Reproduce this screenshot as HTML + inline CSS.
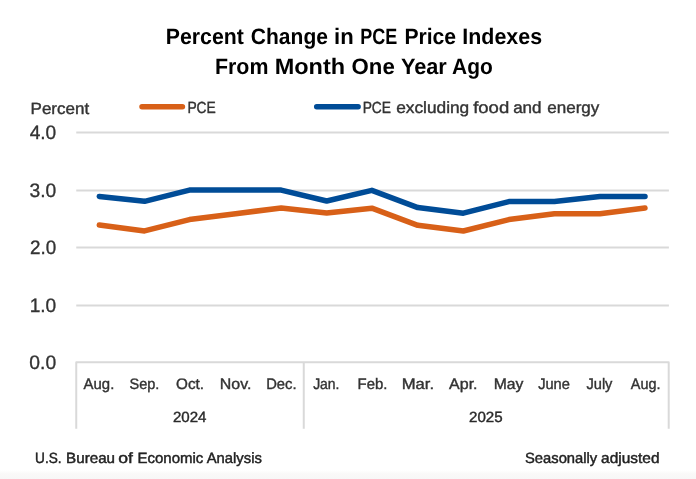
<!DOCTYPE html>
<html lang="en">
<head>
<meta charset="utf-8">
<title>Percent Change in PCE Price Indexes From Month One Year Ago</title>
<style>
html,body{margin:0;padding:0;background:#fff;}
body{width:696px;height:479px;overflow:hidden;font-family:"Liberation Sans",sans-serif;}
svg{display:block;}
text{font-family:"Liberation Sans",sans-serif;text-rendering:geometricPrecision;}
.title{font-weight:bold;fill:#000;font-size:22.3px;}
.ax{fill:#333;font-size:19.5px;stroke:#333;stroke-width:0.35px;}
.lg{fill:#333;font-size:16.2px;stroke:#333;stroke-width:0.4px;}
.mo{fill:#333;font-size:15.2px;stroke:#333;stroke-width:0.4px;}
.yr{fill:#2a2a2a;font-size:14.8px;stroke:#2a2a2a;stroke-width:0.4px;}
.ft{fill:#222;font-size:14.8px;stroke:#222;stroke-width:0.45px;}
.grid{stroke:#d9d9d9;stroke-width:2;fill:none;stroke-linejoin:round;}
.s{fill:none;stroke-width:5.5;stroke-linecap:round;stroke-linejoin:round;}
.o{stroke:#d86018;}
.b{stroke:#004c97;}
</style>
</head>
<body>
<svg width="696" height="479" viewBox="0 0 696 479">
<defs>
<linearGradient id="bot" x1="0" y1="0" x2="0" y2="1">
<stop offset="0" stop-color="#ffffff"/>
<stop offset="0.4" stop-color="#faf9f8"/>
<stop offset="1" stop-color="#f7f7f7"/>
</linearGradient>
</defs>
<rect x="0" y="0" width="696" height="479" fill="#ffffff"/>
<rect x="0" y="470.2" width="696" height="8.8" fill="url(#bot)"/>
<line class="grid" x1="76.25" y1="305.40" x2="668.9" y2="305.40"/>
<line class="grid" x1="76.25" y1="247.40" x2="668.9" y2="247.40"/>
<line class="grid" x1="76.25" y1="190.45" x2="668.9" y2="190.45"/>
<line class="grid" x1="76.25" y1="132.40" x2="668.9" y2="132.40"/>
<path class="grid" d="M76.25,428.75 V362.35 H668.7 V428.75 M303.75,362.35 V428.75"/>
<line class="s o" x1="142" y1="106.65" x2="182.4" y2="106.65"/>
<line class="s b" x1="316.7" y1="106.65" x2="358.1" y2="106.65"/>
<polyline class="s o" points="99.30,225.00 144.56,230.90 189.40,219.60 235.63,213.70 281.17,207.95 326.71,213.10 371.85,208.20 417.79,225.30 463.33,231.00 508.87,219.60 554.40,213.70 599.94,213.70 645.00,208.10"/>
<polyline class="s b" points="99.30,196.40 144.56,201.30 189.40,190.10 235.63,190.10 281.17,190.10 326.71,201.00 371.85,190.35 417.79,207.60 463.33,213.20 508.87,201.55 554.40,201.55 599.94,196.60 645.00,196.60"/>
<text class="title" y="43.70"><tspan x="165.87" textLength="77.95" lengthAdjust="spacingAndGlyphs">Percent</tspan> <tspan x="250.87" textLength="77.05" lengthAdjust="spacingAndGlyphs">Change</tspan> <tspan x="334.04" textLength="19.64" lengthAdjust="spacingAndGlyphs">in</tspan> <tspan x="360.17" textLength="37.01" lengthAdjust="spacingAndGlyphs">PCE</tspan> <tspan x="404.38" textLength="51.73" lengthAdjust="spacingAndGlyphs">Price</tspan> <tspan x="462.35" textLength="79.74" lengthAdjust="spacingAndGlyphs">Indexes</tspan></text>
<text class="title" y="73.90"><tspan x="214.94" textLength="53.48" lengthAdjust="spacingAndGlyphs">From</tspan> <tspan x="274.68" textLength="70.44" lengthAdjust="spacingAndGlyphs">Month</tspan> <tspan x="351.62" textLength="43.18" lengthAdjust="spacingAndGlyphs">One</tspan> <tspan x="400.91" textLength="45.91" lengthAdjust="spacingAndGlyphs">Year</tspan> <tspan x="452.11" textLength="40.69" lengthAdjust="spacingAndGlyphs">Ago</tspan></text>
<text class="lg" y="113.60"><tspan x="30.59" textLength="58.58" lengthAdjust="spacingAndGlyphs">Percent</tspan></text>
<text class="lg" y="112.70"><tspan x="187.39" textLength="28.47" lengthAdjust="spacingAndGlyphs">PCE</tspan></text>
<text class="lg" y="112.70"><tspan x="362.64" textLength="28.38" lengthAdjust="spacingAndGlyphs">PCE</tspan> <tspan x="396.18" textLength="73.07" lengthAdjust="spacingAndGlyphs">excluding</tspan> <tspan x="473.17" textLength="36.03" lengthAdjust="spacingAndGlyphs">food</tspan> <tspan x="513.17" textLength="28.39" lengthAdjust="spacingAndGlyphs">and</tspan> <tspan x="547.24" textLength="52.1" lengthAdjust="spacingAndGlyphs">energy</tspan></text>
<text class="ax" y="138.70"><tspan x="29.65" textLength="26.61" lengthAdjust="spacingAndGlyphs">4.0</tspan></text>
<text class="ax" y="196.75"><tspan x="29.52" textLength="26.77" lengthAdjust="spacingAndGlyphs">3.0</tspan></text>
<text class="ax" y="253.70"><tspan x="30.01" textLength="26.17" lengthAdjust="spacingAndGlyphs">2.0</tspan></text>
<text class="ax" y="311.70"><tspan x="29.64" textLength="26.63" lengthAdjust="spacingAndGlyphs">1.0</tspan></text>
<text class="ax" y="368.65"><tspan x="29.36" textLength="26.85" lengthAdjust="spacingAndGlyphs">0.0</tspan></text>
<text class="mo" y="388.65"><tspan x="83.6" textLength="30.69" lengthAdjust="spacingAndGlyphs">Aug.</tspan></text>
<text class="mo" y="388.65"><tspan x="129.54" textLength="29.84" lengthAdjust="spacingAndGlyphs">Sep.</tspan></text>
<text class="mo" y="388.65"><tspan x="176.06" textLength="27.93" lengthAdjust="spacingAndGlyphs">Oct.</tspan></text>
<text class="mo" y="388.65"><tspan x="219.81" textLength="31.59" lengthAdjust="spacingAndGlyphs">Nov.</tspan></text>
<text class="mo" y="388.65"><tspan x="266.19" textLength="30.4" lengthAdjust="spacingAndGlyphs">Dec.</tspan></text>
<text class="mo" y="388.65"><tspan x="313.14" textLength="26.35" lengthAdjust="spacingAndGlyphs">Jan.</tspan></text>
<text class="mo" y="388.65"><tspan x="357.55" textLength="29.82" lengthAdjust="spacingAndGlyphs">Feb.</tspan></text>
<text class="mo" y="388.65"><tspan x="401.69" textLength="32.38" lengthAdjust="spacingAndGlyphs">Mar.</tspan></text>
<text class="mo" y="388.65"><tspan x="449.09" textLength="28.45" lengthAdjust="spacingAndGlyphs">Apr.</tspan></text>
<text class="mo" y="388.65"><tspan x="493.66" textLength="29.73" lengthAdjust="spacingAndGlyphs">May</tspan></text>
<text class="mo" y="388.65"><tspan x="538.13" textLength="31.79" lengthAdjust="spacingAndGlyphs">June</tspan></text>
<text class="mo" y="388.65"><tspan x="586.45" textLength="26.0" lengthAdjust="spacingAndGlyphs">July</tspan></text>
<text class="mo" y="388.65"><tspan x="630.85" textLength="29.65" lengthAdjust="spacingAndGlyphs">Aug.</tspan></text>
<text class="yr" y="422.10"><tspan x="172.95" textLength="33.54" lengthAdjust="spacingAndGlyphs">2024</tspan></text>
<text class="yr" y="422.10"><tspan x="468.99" textLength="33.62" lengthAdjust="spacingAndGlyphs">2025</tspan></text>
<text class="ft" y="462.50"><tspan x="35.08" textLength="26.54" lengthAdjust="spacingAndGlyphs">U.S.</tspan> <tspan x="66.13" textLength="48.92" lengthAdjust="spacingAndGlyphs">Bureau</tspan> <tspan x="118.35" textLength="14.66" lengthAdjust="spacingAndGlyphs">of</tspan> <tspan x="137.44" textLength="65.87" lengthAdjust="spacingAndGlyphs">Economic</tspan> <tspan x="206.75" textLength="55.11" lengthAdjust="spacingAndGlyphs">Analysis</tspan></text>
<text class="ft" y="462.50"><tspan x="525.0" textLength="72.24" lengthAdjust="spacingAndGlyphs">Seasonally</tspan> <tspan x="601.11" textLength="58.38" lengthAdjust="spacingAndGlyphs">adjusted</tspan></text>
</svg>
</body>
</html>
